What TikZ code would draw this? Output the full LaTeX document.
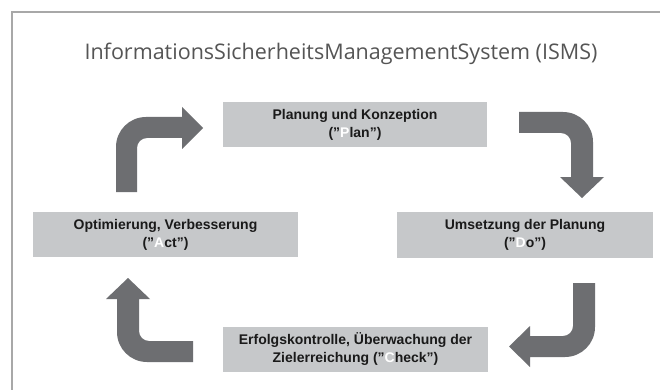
\documentclass[tikz,border=0pt]{standalone}
\usepackage{fontspec}
\setmainfont[Ligatures=NoCommon]{Liberation Sans}
\newfontfamily\titlefont{Open Sans}
\usepackage{graphicx}
\definecolor{boxgray}{HTML}{C6C8CA}
\definecolor{arrowgray}{HTML}{6D6E71}
\definecolor{framegray}{HTML}{A8A8A8}
\definecolor{titlegray}{HTML}{555555}
\definecolor{txt}{HTML}{1A1A1A}
\newcommand{\qq}{\symbol{34}}
\tikzset{
  phase/.style={fill=boxgray, draw=none, inner sep=0pt, align=center,
    font=\fontsize{14}{18}\selectfont\bfseries, text=txt},
  bend arrow/.style={fill=arrowgray, draw=none},
}
\begin{document}
\begin{tikzpicture}[x=1pt,y=-1pt]
\useasboundingbox (0,0) rectangle (660,390);
\fill[white] (0,0) rectangle (660,390);
\draw[framegray, line width=1.1pt] (12,390) -- (12,12) -- (660,12);
\node[text=titlegray, anchor=base] (title) at (341,60)
  {\resizebox{513pt}{!}{\titlefont InformationsSicherheitsManagementSystem (ISMS)}};
\node[phase, minimum width=264pt, minimum height=45pt] (plan) at (355,124.5)
  {Planung und Konzeption\\(\qq\textcolor{white}{P}lan\qq)};
\node[phase, minimum width=256pt, minimum height=46pt] (do) at (525,235)
  {Umsetzung der Planung\\(\qq\textcolor{white}{D}o\qq)};
\node[phase, minimum width=265pt, minimum height=45pt] (check) at (355.5,349.5)
  {Erfolgskontrolle, Überwachung der\\Zielerreichung (\qq\textcolor{white}{C}heck\qq)};
\node[phase, minimum width=265pt, minimum height=45pt] (act) at (165.5,234.5)
  {Optimierung, Verbesserung\\(\qq\textcolor{white}{A}ct\qq)};
% arrow act -> plan
\fill[bend arrow] (116,192) -- (116,147) .. controls (116,130.4) and (129.4,117) .. (146,117)
  -- (182,117) -- (182,107) -- (203,128) -- (182,149) -- (182,138) -- (147,138)
  .. controls (141.5,138) and (137,142.5) .. (137,148) -- (137,192) -- cycle;
% arrow plan -> do
\fill[bend arrow] (519,112) -- (563,112) .. controls (579.6,112) and (593,125.4) .. (593,142)
  -- (593,177) -- (604,177) -- (582,198) -- (560,177) -- (571,177) -- (571,143)
  .. controls (571,137.5) and (566.5,133) .. (561,133) -- (519,133) -- cycle;
% arrow do -> check
\fill[bend arrow] (595,283) -- (595,327) .. controls (595,343.6) and (581.6,357) .. (565,357)
  -- (530,357) -- (530,367) -- (509,346.5) -- (530,326) -- (530,336) -- (563,336)
  .. controls (568.5,336) and (573,331.5) .. (573,326) -- (573,283) -- cycle;
% arrow check -> act
\fill[bend arrow] (193,362) -- (147,362) .. controls (130.4,362) and (117,348.6) .. (117,332)
  -- (117,299) -- (106,299) -- (128,278) -- (150,299) -- (139,299) -- (139,331)
  .. controls (139,336.5) and (143.5,341) .. (149,341) -- (193,341) -- cycle;
\end{tikzpicture}
\end{document}
